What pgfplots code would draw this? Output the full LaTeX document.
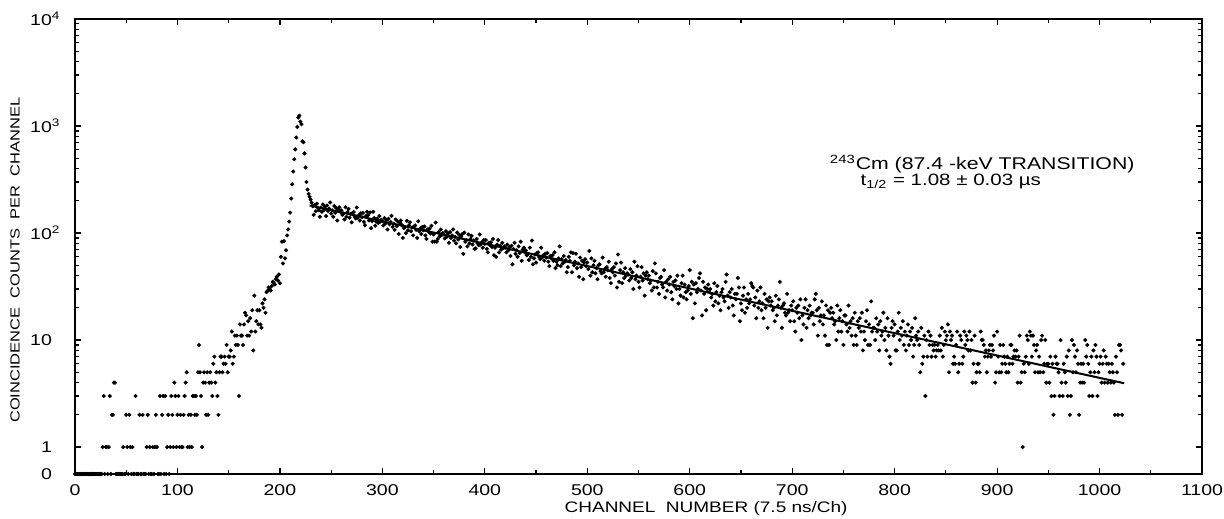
\documentclass[border=0pt]{standalone}
\usepackage{fontspec}
\setmainfont[FakeStretch=1.25]{Liberation Sans}
\usepackage{pgfplots}
\pgfplotsset{compat=1.18}
\begin{document}
\begin{tikzpicture}
\begin{axis}[
  name=ax, at={(0,0)}, anchor=south west,
  scale only axis, width=563.5pt, height=227.5pt,
  xmin=0, xmax=1100, ymode=log, ymin=0.56, ymax=10000,
  xtick={0,100,...,1100}, minor xtick={50,150,...,1050},
  ytick={0.56,1,10,100,1000,10000},
  yticklabels={0,1,10,10\rlap{\textsuperscript{2}},10\rlap{\textsuperscript{3}},10\rlap{\textsuperscript{4}}},
  minor ytick={2,3,...,9,20,30,...,90,200,300,...,900,2000,3000,...,9000},
  tick align=inside,
  major tick length=3pt, minor tick length=1.8pt,
  axis line style={line width=0.7pt},
  every tick/.style={black, line width=0.6pt},
  tick label style={font=\fontsize{7.8}{9}\selectfont},
  /pgf/number format/assume math mode=true,
  /pgf/number format/1000 sep={},
  xticklabel style={yshift=-2pt},
  yticklabel style={anchor=east, xshift=-8pt},
  xlabel={CHANNEL\ \ NUMBER (7.5 ns/Ch)},
  ylabel={COINCIDENCE\ \ COUNTS\ \ PER\ \ CHANNEL},
  xlabel style={font=\fontsize{7.6}{9}\selectfont, at={(axis description cs:0.56,0)}, anchor=center, yshift=-17.5pt},
  ylabel style={font=\fontsize{6.6}{8}\selectfont, at={(axis description cs:-0.0532,0.47)}, anchor=center},
  clip=false,
]
\addplot[only marks, mark=*, mark size=0.8pt, black] coordinates {
(0,0.56)(1,0.56)(2,0.56)(3,0.56)(4,0.56)(5,0.56)(6,0.56)(7,0.56)(8,0.56)(9,0.56)
(10,0.56)(11,0.56)(12,0.56)(13,0.56)(14,0.56)(15,0.56)(16,0.56)(17,0.56)(18,0.56)(19,0.56)
(20,0.56)(21,0.56)(22,0.56)(23,0.56)(24,0.56)(25,0.56)(26,0.56)(27,1)(28,3)(29,0.56)
(30,1)(31,1)(32,0.56)(33,1)(34,3)(35,0.56)(36,2)(37,2)(38,4)(39,4)
(40,0.56)(41,0.56)(42,0.56)(43,0.56)(44,0.56)(45,0.56)(46,0.56)(47,1)(48,0.56)(49,0.56)
(50,2)(51,1)(52,0.56)(53,2)(54,1)(55,0.56)(56,1)(57,0.56)(58,0.56)(59,3)
(60,0.56)(61,0.56)(62,0.56)(63,2)(64,0.56)(65,0.56)(66,2)(67,0.56)(68,0.56)(69,0.56)
(70,1)(71,2)(72,0.56)(73,1)(74,0.56)(75,0.56)(76,1)(77,0.56)(78,1)(79,2)
(80,1)(81,0.56)(82,0.56)(83,3)(84,0.56)(85,2)(86,3)(87,0.56)(88,3)(89,0.56)
(90,1)(91,2)(92,0.56)(93,1)(94,3)(95,2)(96,1)(97,4)(98,3)(99,1)
(100,2)(101,3)(102,1)(103,2)(104,1)(105,1)(106,2)(107,3)(108,4)(109,5)
(110,1)(111,2)(112,1)(113,2)(114,1)(115,3)(116,3)(117,2)(118,3)(119,2)
(120,5)(121,9)(122,5)(123,3)(124,1)(125,4)(126,5)(127,4)(128,2)(129,5)
(130,2)(131,4)(132,5)(133,4)(134,3)(135,6)(136,7)(137,4)(138,5)(139,3)
(140,2)(141,5)(142,7)(143,7)(144,5)(145,6)(146,7)(147,6)(148,9)(149,5)
(150,7)(151,7)(152,8)(153,12)(154,6)(155,7)(156,11)(157,9)(158,11)(159,9)
(160,3)(161,14)(162,11)(163,11)(164,9)(165,14)(166,18)(167,17)(168,11)(169,15)
(170,11)(171,16)(172,12)(173,19)(174,8)(175,26)(176,12)(177,15)(178,19)(179,14)
(180,19)(181,14)(182,13)(183,22)(184,20)(185,24)(186,18)(187,28)(188,29)(189,31)
(190,30)(191,29)(192,32)(193,35)(194,34)(195,33)(196,37)(197,39)(198,36)(199,41)
(200,34)(201,60)(202,83)(203,52)(204,84)(205,58)(206,69)(207,95)(208,108)(209,128)
(210,155)(211,210)(212,285)(213,376)(214,490)(215,605)(216,780)(217,980)(218,1200)(219,1250)
(220,1100)(221,1040)(222,720)(223,705)(224,555)(225,410)(226,300)(227,255)(228,232)(229,218)
(230,205)(231,192)(232,178)(233,148)(234,183)(235,160)(236,188)(237,172)(238,163)(239,142)
(240,173)(241,158)(242,185)(243,164)(244,176)(245,144)(246,181)(247,161)(248,169)(249,193)
(250,152)(251,163)(252,142)(253,179)(254,155)(255,171)(256,131)(257,166)(258,174)(259,158)
(260,163)(261,148)(262,152)(263,134)(264,174)(265,142)(266,157)(267,168)(268,139)(269,151)
(270,126)(271,154)(272,157)(273,142)(274,137)(275,173)(276,139)(277,147)(278,131)(279,153)
(280,141)(281,154)(282,127)(283,118)(284,144)(285,158)(286,147)(287,131)(288,156)(289,111)
(290,129)(291,158)(292,138)(293,117)(294,128)(295,136)(296,124)(297,144)(298,128)(299,133)
(300,129)(301,118)(302,138)(303,123)(304,132)(305,108)(306,136)(307,121)(308,127)(309,145)
(310,114)(311,122)(312,107)(313,134)(314,116)(315,128)(316,98)(317,125)(318,131)(319,119)
(320,90)(321,111)(322,114)(323,100)(324,130)(325,106)(326,118)(327,126)(328,104)(329,113)
(330,95)(331,115)(332,118)(333,107)(334,90)(335,129)(336,104)(337,110)(338,98)(339,114)
(340,106)(341,115)(342,95)(343,88)(344,108)(345,103)(346,110)(347,99)(348,117)(349,83)
(350,97)(351,83)(352,125)(353,83)(354,88)(355,102)(356,93)(357,108)(358,96)(359,100)
(360,97)(361,89)(362,104)(363,92)(364,99)(365,81)(366,102)(367,90)(368,95)(369,108)
(370,85)(371,92)(372,80)(373,101)(374,87)(375,96)(376,74)(377,93)(378,98)(379,64)
(380,101)(381,83)(382,86)(383,75)(384,97)(385,80)(386,88)(387,94)(388,78)(389,85)
(390,71)(391,72)(392,88)(393,80)(394,77)(395,97)(396,78)(397,82)(398,73)(399,86)
(400,79)(401,86)(402,71)(403,66)(404,81)(405,77)(406,82)(407,74)(408,88)(409,62)
(410,73)(411,60)(412,78)(413,86)(414,66)(415,76)(416,70)(417,81)(418,72)(419,75)
(420,73)(421,66)(422,78)(423,69)(424,74)(425,61)(426,76)(427,51)(428,71)(429,81)
(430,64)(431,69)(432,60)(433,75)(434,65)(435,83)(436,55)(437,70)(438,73)(439,66)
(440,69)(441,62)(442,64)(443,56)(444,73)(445,60)(446,85)(447,51)(448,58)(449,63)
(450,53)(451,65)(452,66)(453,60)(454,57)(455,73)(456,59)(457,62)(458,55)(459,64)
(460,59)(461,65)(462,54)(463,49)(464,61)(465,58)(466,62)(467,55)(468,66)(469,47)
(470,54)(471,50)(472,58)(473,75)(474,49)(475,57)(476,52)(477,61)(478,54)(479,56)
(480,43)(481,48)(482,60)(483,55)(484,66)(485,43)(486,65)(487,50)(488,54)(489,64)
(490,47)(491,52)(492,39)(493,59)(494,48)(495,55)(496,37)(497,53)(498,57)(499,49)
(500,53)(501,46)(502,68)(503,40)(504,58)(505,43)(506,50)(507,55)(508,42)(509,47)
(510,37)(511,50)(512,51)(513,44)(514,42)(515,59)(516,43)(517,46)(518,39)(519,48)
(520,45)(521,54)(522,38)(523,34)(524,46)(525,43)(526,48)(527,40)(528,52)(529,31)
(530,63)(531,35)(532,45)(533,53)(534,34)(535,43)(536,38)(537,47)(538,40)(539,42)
(540,41)(541,36)(542,46)(543,38)(544,43)(545,30)(546,54)(547,37)(548,40)(549,49)
(550,35)(551,31)(552,39)(553,48)(554,36)(555,42)(556,26)(557,40)(558,43)(559,37)
(560,40)(561,34)(562,36)(563,29)(564,44)(565,31)(566,52)(567,42)(568,31)(569,35)
(570,27)(571,38)(572,39)(573,33)(574,31)(575,45)(576,25)(577,35)(578,29)(579,37)
(580,33)(581,39)(582,28)(583,24)(584,35)(585,32)(586,36)(587,30)(588,40)(589,22)
(590,30)(591,26)(592,34)(593,40)(594,25)(595,33)(596,28)(597,24)(598,29)(599,32)
(600,45)(601,27)(602,35)(603,16)(604,33)(605,22)(606,34)(607,28)(608,30)(609,38)
(610,42)(611,29)(612,17)(613,35)(614,27)(615,31)(616,19)(617,30)(618,33)(619,28)
(620,30)(621,25)(622,27)(623,21)(624,34)(625,23)(626,28)(627,32)(628,22)(629,26)
(630,19)(631,28)(632,30)(633,25)(634,23)(635,35)(636,41)(637,26)(638,20)(639,28)
(640,25)(641,30)(642,21)(643,17)(644,27)(645,24)(646,27)(647,38)(648,31)(649,15)
(650,22)(651,19)(652,26)(653,31)(654,18)(655,24)(656,20)(657,27)(658,22)(659,24)
(660,34)(661,32)(662,31)(663,21)(664,25)(665,16)(666,29)(667,20)(668,23)(669,31)
(670,19)(671,22)(672,16)(673,27)(674,20)(675,24)(676,13)(677,23)(678,25)(679,21)
(680,23)(681,19)(682,20)(683,15)(684,26)(685,17)(686,21)(687,24)(688,35)(689,20)
(690,13)(691,21)(692,22)(693,18)(694,17)(695,27)(696,18)(697,19)(698,15)(699,21)
(700,19)(701,23)(702,15)(703,12)(704,20)(705,18)(706,21)(707,16)(708,24)(709,10)
(710,17)(711,14)(712,20)(713,24)(714,13)(715,19)(716,16)(717,21)(718,17)(719,18)
(720,18)(721,14)(722,24)(723,27)(724,19)(725,11)(726,20)(727,15)(728,17)(729,23)
(730,14)(731,17)(732,11)(733,21)(734,9)(735,19)(736,9)(737,18)(738,20)(739,16)
(740,18)(741,14)(742,15)(743,10)(744,21)(745,12)(746,16)(747,19)(748,12)(749,15)
(750,9)(751,17)(752,17)(753,14)(754,12)(755,21)(756,13)(757,15)(758,11)(759,16)
(760,9)(761,18)(762,11)(763,9)(764,15)(765,13)(766,16)(767,12)(768,18)(769,8)
(770,12)(771,10)(772,15)(773,19)(774,9)(775,14)(776,9)(777,23)(778,12)(779,13)
(780,13)(781,10)(782,16)(783,12)(784,14)(785,8)(786,15)(787,11)(788,12)(789,18)
(790,10)(791,13)(792,8)(793,16)(794,11)(795,7)(796,6)(797,13)(798,15)(799,11)
(800,14)(801,8)(802,8)(803,12)(804,18)(805,10)(806,13)(807,11)(808,15)(809,9)
(810,12)(811,8)(812,11)(813,14)(814,9)(815,12)(816,10)(817,13)(818,7)(819,9)
(820,16)(821,11)(822,10)(823,12)(824,9)(825,5)(826,13)(827,6)(828,7)(829,11)
(830,3)(831,10)(832,7)(833,12)(834,9)(835,11)(836,7)(837,9)(838,8)(839,9)
(840,7)(841,8)(842,9)(843,8)(844,11)(845,8)(846,13)(847,7)(848,9)(849,12)
(850,10)(851,11)(852,14)(853,5)(854,12)(855,10)(856,11)(857,6)(858,7)(859,6)
(860,9)(861,12)(862,5)(863,6)(864,11)(865,10)(866,6)(867,7)(868,12)(869,9)
(870,11)(871,10)(872,8)(873,12)(874,8)(875,10)(876,4)(877,6)(878,11)(879,4)
(880,5)(881,6)(882,6)(883,5)(884,12)(885,10)(886,10)(887,9)(888,7)(889,8)
(890,5)(891,7)(892,8)(893,9)(894,7)(895,9)(896,8)(897,11)(898,4)(899,5)
(900,12)(901,7)(902,5)(903,9)(904,5)(905,6)(906,9)(907,7)(908,6)(909,5)
(910,7)(911,5)(912,6)(913,9)(914,9)(915,6)(916,7)(917,8)(918,7)(919,8)
(920,4)(921,7)(922,11)(923,4)(924,5)(925,1)(926,6)(927,5)(928,7)(929,11)
(930,10)(931,6)(932,12)(933,11)(934,7)(935,11)(936,9)(937,5)(938,8)(939,9)
(940,5)(941,7)(942,5)(943,10)(944,11)(945,5)(946,6)(947,10)(948,4)(949,6)
(950,6)(951,4)(952,7)(953,3)(954,6)(955,2)(956,3)(957,7)(958,6)(959,6)
(960,5)(961,3)(962,10)(963,4)(964,3)(965,6)(966,5)(967,4)(968,7)(969,3)
(970,8)(971,2)(972,3)(973,10)(974,5)(975,9)(976,7)(977,5)(978,8)(979,6)
(980,2)(981,4)(982,6)(983,4)(984,6)(985,4)(986,10)(987,7)(988,9)(989,6)
(990,3)(991,5)(992,7)(993,3)(994,8)(995,5)(996,9)(997,7)(998,3)(999,5)
(1000,6)(1001,7)(1002,4)(1003,6)(1004,8)(1005,4)(1006,7)(1007,6)(1008,4)(1009,6)
(1010,5)(1011,4)(1012,6)(1013,5)(1014,4)(1015,2)(1016,7)(1017,5)(1018,2)(1019,9)
(1020,9)(1021,8)(1022,2)(1023,6)
};
\addplot[black, line width=1pt] coordinates {(229,181)(1024,3.95)};
\node[anchor=west, font=\fontsize{8.5}{10}\selectfont] at (axis cs:730,438) {\textsuperscript{243}Cm (87.4 -keV TRANSITION)};
\node[anchor=west, font=\fontsize{8.2}{10}\selectfont] at (axis cs:760,304) {t\textsubscript{1/2} = 1.08 ± 0.03 µs};
\end{axis}
\pgfresetboundingbox
\path[use as bounding box] ([xshift=-37.5pt,yshift=-22pt]ax.south west) rectangle ([xshift=11pt,yshift=9.5pt]ax.north east);
\end{tikzpicture}
\end{document}
